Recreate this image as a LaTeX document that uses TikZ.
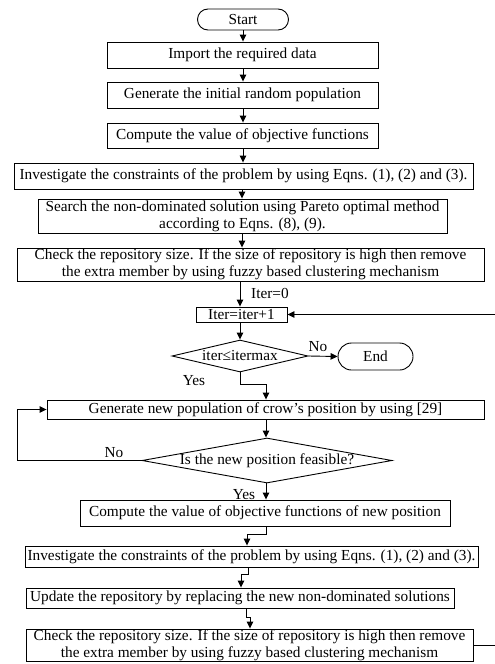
\documentclass[tikz,border=0pt]{standalone}
\usepackage{fontspec}
\setmainfont{Liberation Serif}
\usetikzlibrary{shapes.geometric,shapes.misc,arrows.meta}
\begin{document}
\begin{tikzpicture}[x=1pt,y=-1pt,
  font=\fontsize{15.3}{16.8}\selectfont,
  line width=0.9pt,
  box/.style={draw,rectangle,inner sep=0pt,align=center},
  term/.style={draw,rounded rectangle,inner sep=0pt},
  dec/.style={draw,diamond,inner sep=0pt},
  arr/.style={-{Triangle[length=7pt,width=6.5pt]}},
  lbl/.style={inner sep=0pt}]
\useasboundingbox (0,0) rectangle (495,664);
\node[term,minimum width=91,minimum height=21] (start) at (243,19.5) {Start};
\node[box,minimum width=271,minimum height=26] (import) at (242.5,55) {Import the required data};
\node[box,minimum width=271,minimum height=26] (genpop) at (242.5,95) {Generate the initial random population};
\node[box,minimum width=271,minimum height=25] (compute) at (242.5,135.5) {Compute the value of objective functions};
\node[box,minimum width=459,minimum height=26] (invest) at (243.5,176) {Investigate the constraints of the problem by using Eqns. (1), (2) and (3).};
\node[box,minimum width=409,minimum height=34] (search) at (242.5,216) {Search the non-dominated solution using Pareto optimal method\\according to Eqns. (8), (9).};
\node[box,minimum width=467,minimum height=33] (check) at (250.5,264.5) {Check the repository size. If the size of repository is high then remove\\the extra member by using fuzzy based clustering mechanism};
\node[box,minimum width=91,minimum height=15] (iter) at (241.5,314.5) {Iter=iter+1};
\node[dec,minimum width=136,minimum height=32] (dec1) at (240,356) {};
\node[lbl] (dec1t) at (dec1) {iter≤itermax};
\node[term,minimum width=75,minimum height=27] (end) at (375.5,356.5) {End};
\node[box,minimum width=437,minimum height=19] (gennew) at (265.5,409.5) {Generate new population of crow’s position by using [29]};
\node[dec,minimum width=250,minimum height=45] (dec2) at (267,460.5) {};
\node[lbl] (dec2t) at (267,461) {Is the new position feasible?};
\node[box,minimum width=370,minimum height=26] (compnew) at (265,513) {Compute the value of objective functions of new position};
\node[box,minimum width=453,minimum height=21] (invest2) at (251.5,556.5) {Investigate the constraints of the problem by using Eqns. (1), (2) and (3).};
\node[box,minimum width=428,minimum height=20] (update) at (240,598) {Update the repository by replacing the new non-dominated solutions};
\node[box,minimum width=447,minimum height=32] (check2) at (249.5,645) {Check the repository size. If the size of repository is high then remove\\the extra member by using fuzzy based clustering mechanism};
% labels
\node[lbl] (l0) at (270,293) {Iter=0};
\node[lbl] (lno1) at (318,347) {No};
\node[lbl] (lyes1) at (194,381) {Yes};
\node[lbl] (lno2) at (114,453) {No};
\node[lbl] (lyes2) at (244,495) {Yes};
% connectors
\draw[arr] (start.south -| 243,0) -- (import.north -| 243,0);
\draw[arr] (import.south -| 243,0) -- (genpop.north -| 243,0);
\draw[arr] (genpop.south -| 243,0) -- (compute.north -| 243,0);
\draw[arr] (compute.south -| 243,0) -- (invest.north -| 243,0);
\draw[arr] (invest.south -| 242,0) -- (search.north -| 242,0);
\draw[arr] (search.south -| 242,0) -- (check.north -| 242,0);
\draw[arr] (check.south -| 240,0) -- (iter.north -| 240,0);
\draw[arr] (iter.south -| 240,0) -- (dec1.north);
\draw[arr] (dec1.east) -- (end.west);
\draw[arr] (dec1.south) -- (240,384) -| (gennew.north -| 266,0);
\draw[arr] (gennew.south -| 266,0) -- (dec2.north -| 266,0);
\draw[arr] (dec2.west) -- (17,460.5) |- (gennew.west);
\draw[arr] (dec2.south -| 266,0) -- (compnew.north -| 266,0);
\draw[arr] (compnew.south -| 266,0) -- (266,534) -| (invest2.north -| 247,0);
\draw[arr] (invest2.south -| 248,0) -- (248,574) -| (update.north -| 241,0);
\draw[arr] (update.south -| 246,0) -- (246,617) -| (check2.north -| 250,0);
\draw[arr] (check2.east |- 0,645) -- (498,645) |- (iter.east);
\end{tikzpicture}
\end{document}
